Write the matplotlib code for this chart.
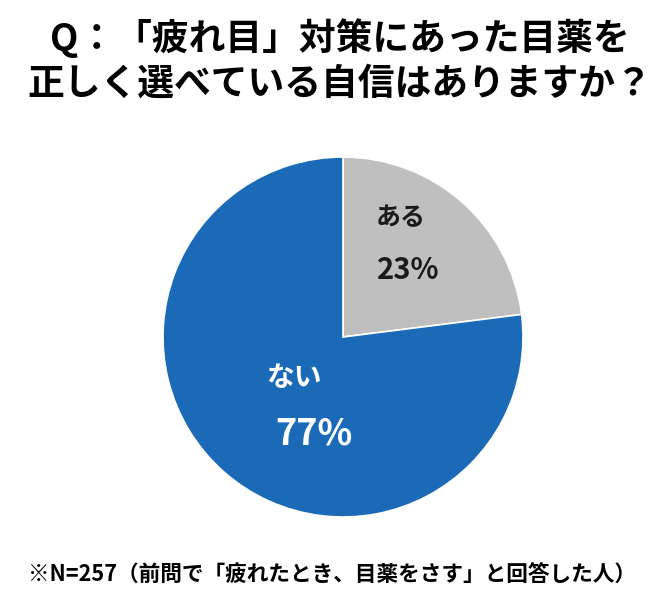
import matplotlib
matplotlib.use("Agg")
import matplotlib.pyplot as plt

plt.rcParams['font.family'] = ['Noto Sans CJK JP', 'DejaVu Sans']

categories = ["ある", "ない"]
values = [23, 77]
colors = ["#bfbfbf", "#1a6ab7"]
title_lines = ["Q：「疲れ目」対策にあった目薬を", "正しく選べている自信はありますか？"]
footnote = "※N=257（前問で「疲れたとき、目薬をさす」と回答した人）"

W, H = 666, 607
fig = plt.figure(figsize=(W/100, H/100), dpi=100)
fig.patch.set_facecolor("white")

cx, cy, r = 343, 337, 180
ax = fig.add_axes([(cx - r)/W, (H - cy - r)/H, 2*r/W, 2*r/H])
ax.pie(values, colors=colors, startangle=90, counterclock=False,
       radius=1, wedgeprops=dict(linewidth=1.2, edgecolor="white"))
ax.set_xlim(-1, 1)
ax.set_ylim(-1, 1)
ax.set_aspect("auto")
ax.axis("off")

# labels
ax.text(0.32, 0.66, categories[0], ha="center", va="center", fontsize=18, fontweight="bold", color="#1a1a1a")
ax.text(0.36, 0.37, f"{values[0]}%", ha="center", va="center", fontsize=21, fontweight="bold", color="#1a1a1a")
ax.text(-0.27, -0.23, categories[1], ha="center", va="center", fontsize=20, fontweight="bold", color="white")
ax.text(-0.16, -0.54, f"{values[1]}%", ha="center", va="center", fontsize=26, fontweight="bold", color="white")

fig.text(0.51, 1 - 38/H, title_lines[0], ha="center", va="center", fontsize=26.5, fontweight="bold", color="black")
fig.text(0.51, 1 - 84/H, title_lines[1], ha="center", va="center", fontsize=26.5, fontweight="bold", color="black")
fig.text(28/W, 1 - 575/H, footnote, ha="left", va="center", fontsize=15.6, fontweight="bold", color="black")

fig.savefig("out.png", dpi=100, facecolor="white")
